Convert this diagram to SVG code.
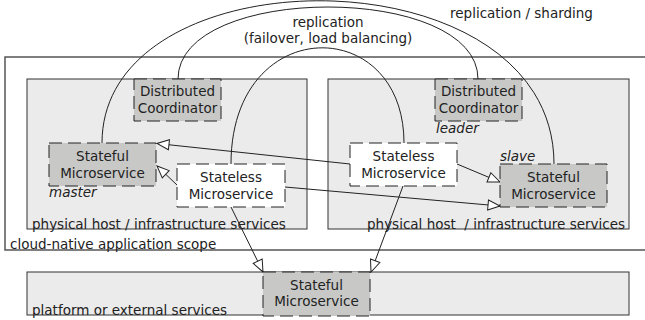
<svg xmlns="http://www.w3.org/2000/svg" width="645" height="320" viewBox="0 0 645 320">
<defs>
<style>
text{font-family:"DejaVu Sans","Liberation Sans",sans-serif;font-size:13.5px;fill:#222}
.c{text-anchor:middle}
.i{font-style:italic}
.pre{white-space:pre}
.scope{fill:#fff;stroke:#555;stroke-width:1.5}
.host{fill:#ebebeb;stroke:#333;stroke-width:1}
.sf{fill:#c8c9c7;stroke:#222;stroke-width:1;stroke-dasharray:13,6}
.sl{fill:#fff;stroke:#222;stroke-width:1;stroke-dasharray:13,6}
.edge{fill:none;stroke:#222;stroke-width:1}
.arr{marker-end:url(#tri)}
</style>
<marker id="tri" viewBox="0 0 14 12" refX="13" refY="6" markerWidth="14" markerHeight="12" markerUnits="userSpaceOnUse" orient="auto">
<path d="M1,1 L13,6 L1,11 z" fill="#fff" stroke="#222" stroke-width="1"/>
</marker>
</defs>
<rect width="645" height="320" fill="#fff"/>
<g id="scope">
<rect class="scope" x="5" y="57" width="660" height="193"/>
<text x="10" y="249">cloud-native application scope</text>
</g>
<g id="host-left">
<rect class="host" x="27" y="79" width="280" height="150"/>
<text x="32" y="228.5">physical host / infrastructure services</text>
</g>
<g id="host-right">
<rect class="host" x="328" y="79" width="301" height="150"/>
<text class="pre" x="367" y="228.5">physical host  / infrastructure services</text>
</g>
<g id="platform">
<rect class="host" x="27" y="272" width="602" height="43"/>
<text x="32" y="314.5">platform or external services</text>
</g>
<g id="connectors">
<path class="edge" d="M102,143 C102,-50 554,-50 554,164"/>
<path class="edge" d="M178,79 C178,-17 478,-17 478,79"/>
<path class="edge" d="M231,164 C231,12.8 404,12.8 404,143"/>
<line class="edge arr" x1="350" y1="164" x2="157" y2="143.5"/>
<line class="edge arr" x1="177" y1="185" x2="157" y2="166"/>
<line class="edge arr" x1="285" y1="187" x2="500" y2="206"/>
<line class="edge arr" x1="457" y1="164" x2="500" y2="182"/>
<line class="edge arr" x1="231" y1="207" x2="263" y2="272"/>
<line class="edge arr" x1="403" y1="186" x2="371" y2="272"/>
<text class="c" x="328" y="27">replication</text>
<text class="c" x="328" y="43">(failover, load balancing)</text>
<text x="450" y="18">replication / sharding</text>
</g>
<g id="coord-left">
<rect class="sf" x="134" y="79" width="87" height="42"/>
<text class="c" x="177.5" y="96">Distributed</text>
<text class="c" x="177.5" y="112.5">Coordinator</text>
</g>
<g id="coord-right">
<rect class="sf" x="435" y="79" width="87" height="42"/>
<text class="c" x="478.5" y="96">Distributed</text>
<text class="c" x="478.5" y="112.5">Coordinator</text>
<text class="i" x="436" y="133">leader</text>
</g>
<g id="stateful-master">
<rect class="sf" x="49" y="143" width="107" height="43"/>
<text class="c" x="102.5" y="161">Stateful</text>
<text class="c" x="102.5" y="177.5">Microservice</text>
<text class="i" x="49" y="197">master</text>
</g>
<g id="stateless-left">
<rect class="sl" x="177" y="164" width="108" height="43"/>
<text class="c" x="231" y="182">Stateless</text>
<text class="c" x="231" y="198.5">Microservice</text>
</g>
<g id="stateless-right">
<rect class="sl" x="350" y="143" width="107" height="43"/>
<text class="c" x="403.5" y="161">Stateless</text>
<text class="c" x="403.5" y="177.5">Microservice</text>
</g>
<g id="stateful-slave">
<rect class="sf" x="500" y="164" width="107" height="43"/>
<text class="c" x="553.5" y="182">Stateful</text>
<text class="c" x="553.5" y="198.5">Microservice</text>
<text class="i" x="500" y="161">slave</text>
</g>
<g id="stateful-platform">
<rect class="sf" x="263" y="272" width="107" height="44"/>
<text class="c" x="316.5" y="289.5">Stateful</text>
<text class="c" x="316.5" y="306">Microservice</text>
</g>
</svg>
